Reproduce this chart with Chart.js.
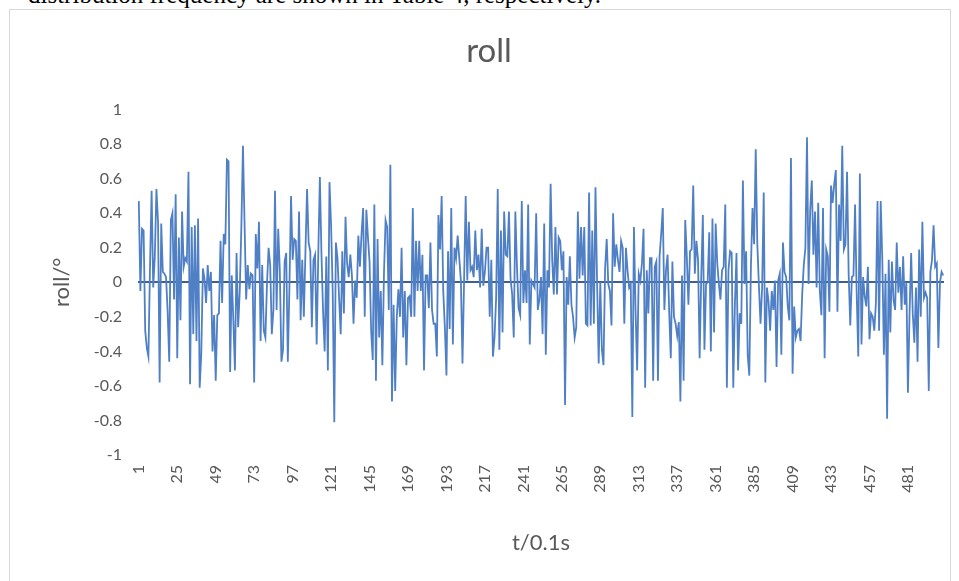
<!DOCTYPE html>
<html><head><meta charset="utf-8">
<script src="https://cdn.jsdelivr.net/npm/chart.js@4"></script>
<style>
html,body{margin:0;padding:0;background:#fff;overflow:hidden}
#wrap{position:relative;width:959px;height:581px;overflow:hidden}
#toptext{position:absolute;left:28px;top:-20px;font-family:'Liberation Serif',serif;font-size:25px;line-height:29px;color:#000;white-space:nowrap}
#frame{position:absolute;left:9px;top:9px;width:940px;height:640px;border:1px solid #d9d9d9}
canvas{position:absolute;left:0;top:0}
</style></head>
<body><div id="wrap">
<div id="toptext">distribution frequency are shown in Table 4, respectively.</div>
<div id="frame"></div>
<canvas id="c" width="959" height="581"></canvas>
</div>
<script>
const chartTitle = 'roll';
const yAxisTitle = 'roll/°';
const xAxisTitle = 't/0.1s';
const xTickLabels = ['1','25','49','73','97','121','145','169','193','217','241','265','289','313','337','361','385','409','433','457','481'];
const yTickValues = [-1,-0.8,-0.6,-0.4,-0.2,0,0.2,0.4,0.6,0.8,1];
const rollValues = [
0.47,-0.05,0.31,0.30,-0.28,-0.38,-0.43,0.09,0.53,-0.03,0.15,0.54,0.35,-0.58,0.34,0.06,0.05,0.03,-0.17,-0.46,0.36,0.40,-0.10,0.51,-0.44,0.26,-0.22,0.41,0.09,0.14,0.12,0.64,-0.59,0.32,-0.30,0.33,-0.34,0.37,-0.61,-0.41,0.08,0.02,-0.12,0.10,-0.05,0.06,
-0.40,-0.19,-0.57,-0.19,-0.18,0.24,-0.12,0.28,0.22,0.71,0.70,-0.52,0.04,-0.22,-0.51,0.17,-0.26,-0.05,0.32,0.79,0.34,-0.10,0.10,-0.04,0.05,0.04,-0.58,0.28,0.08,0.35,-0.34,0.10,-0.28,-0.32,-0.01,0.20,0.10,-0.30,-0.16,0.53,-0.16,0.31,0.07,-0.46,-0.39,0.12,
0.17,-0.46,-0.03,0.50,0.13,0.25,0.24,-0.10,0.41,-0.22,0.13,-0.20,0.18,0.54,0.23,0.18,-0.26,0.13,0.16,-0.36,0.16,0.61,0.16,-0.17,-0.40,0.15,-0.51,0.58,0.33,-0.05,-0.81,0.23,0.14,-0.09,-0.30,0.18,-0.18,0.38,0.11,0.03,0.16,0.04,-0.24,0.01,-0.09,0.27,0.09,
0.28,0.43,-0.20,0.42,0.26,0.12,-0.28,-0.45,0.45,-0.57,0.25,-0.32,-0.05,-0.48,0.05,0.36,0.32,-0.16,0.68,-0.69,-0.13,-0.63,-0.20,-0.04,-0.20,0.20,-0.32,-0.05,-0.48,-0.09,-0.08,-0.20,0.43,-0.20,0.24,-0.05,0.24,-0.05,0.16,-0.51,0.04,0.04,-0.15,0.23,-0.16,-0.24,
-0.24,-0.43,0.39,0.19,0.50,-0.05,-0.26,-0.54,0.18,-0.27,0.43,-0.36,0.20,0.14,0.27,0.14,0.01,-0.47,0.01,0.50,0.01,0.35,0.07,0.09,0.03,0.30,0.07,0.16,-0.03,0.31,-0.02,0.06,0.20,0.20,-0.20,0.13,-0.43,-0.32,-0.09,0.54,-0.39,0.30,-0.29,0.41,0.16,0.15,
0.41,0.02,-0.07,-0.32,0.41,0.09,-0.15,-0.19,0.47,-0.12,0.07,-0.12,0.45,-0.36,0.01,-0.01,-0.03,0.40,-0.16,-0.10,0.03,-0.30,0.34,-0.42,0.07,-0.03,0.57,0.13,-0.07,0.32,-0.07,0.26,0.24,0.07,0.18,-0.71,0.03,-0.13,0.15,-0.13,-0.20,-0.32,-0.26,0.41,0.02,0.32,
0.04,0.32,-0.24,-0.25,0.52,-0.25,0.30,-0.24,0.55,0.00,-0.47,0.00,-0.39,-0.48,0.08,0.25,-0.01,-0.05,-0.25,0.40,0.09,0.22,0.13,0.06,0.24,0.20,-0.24,0.20,0.07,-0.03,-0.01,-0.78,0.32,-0.16,-0.51,0.05,0.01,0.11,0.31,-0.61,0.07,-0.18,0.14,0.14,-0.57,0.09,0.12,
-0.57,0.15,0.28,0.43,-0.16,0.07,0.16,-0.17,-0.44,0.12,-0.20,-0.24,-0.31,-0.23,-0.69,0.04,-0.57,0.36,0.15,-0.13,0.18,0.19,0.56,0.05,0.24,0.13,-0.44,0.03,0.39,-0.39,-0.01,0.00,0.29,-0.40,0.37,-0.29,0.34,0.11,-0.01,-0.10,0.07,0.09,0.45,-0.61,0.07,0.18,
0.17,-0.61,-0.13,0.17,-0.51,-0.18,-0.24,0.59,-0.01,0.18,-0.42,-0.54,0.09,0.43,0.22,0.77,0.22,-0.02,-0.24,-0.03,0.52,-0.58,-0.03,-0.11,-0.28,-0.05,-0.16,0.01,-0.49,0.01,0.05,-0.42,0.23,0.06,0.03,-0.14,-0.22,0.72,-0.53,-0.14,-0.32,-0.28,-0.27,-0.34,-0.07,0.10,
0.20,0.84,-0.01,0.42,0.59,0.16,0.41,-0.03,0.46,-0.05,-0.19,0.43,-0.44,0.19,0.15,-0.17,0.56,0.46,0.57,0.65,-0.17,0.45,0.24,0.79,0.19,0.22,0.64,0.05,-0.25,0.03,0.04,0.45,-0.06,-0.43,0.63,-0.36,0.03,-0.08,-0.14,0.09,-0.33,-0.18,-0.20,-0.28,-0.12,0.47,
-0.28,0.47,0.13,-0.42,0.05,-0.79,0.13,-0.29,0.12,-0.10,-0.16,0.23,-0.06,0.09,-0.16,0.15,-0.13,0.00,-0.64,-0.18,0.17,-0.18,-0.35,-0.03,-0.46,0.19,-0.20,0.35,-0.09,-0.06,-0.09,-0.63,0.06,0.13,0.33,0.09,0.11,-0.38,0.00,0.06,0.04
];
const categories = rollValues.map((v, i) => String(i + 1));

const txt = '#595959';
const fontFam = 'Lato';
new Chart(document.getElementById('c'), {
  type: 'line',
  data: {
    labels: categories,
    datasets: [{ data: rollValues, borderColor: '#4f7fc4', borderWidth: 1.8, pointRadius: 0, tension: 0, fill: false }]
  },
  options: {
    responsive: false, animation: false, devicePixelRatio: 1,
    layout: { padding: { left: 34, right: 15, top: 0, bottom: 0 } },
    plugins: {
      legend: { display: false }, tooltip: { enabled: false },
      title: { display: true, text: chartTitle, color: txt, font: { family: fontFam, size: 33, weight: 'normal' }, padding: { top: 32, bottom: 38 } }
    },
    scales: {
      x: {
        type: 'category', offset: true,
        grid: { display: false, drawTicks: false },
        border: { display: false },
        ticks: {
          autoSkip: false, maxRotation: 90, minRotation: 90, padding: 10,
          color: txt, font: { family: fontFam, size: 16 },
          callback: function (v, i) { const l = categories[i]; return xTickLabels.includes(l) ? l : ''; }
        },
        title: { display: true, text: xAxisTitle, color: txt, font: { family: fontFam, size: 22 }, padding: { top: 0, bottom: 25 } },
        afterFit: s => { s.height = 126; s.paddingLeft = 0; s.paddingRight = 0; }
      },
      y: {
        min: -1, max: 1, z: 1,
        afterBuildTicks: s => { s.ticks = yTickValues.map(v => ({ value: v })); },
        ticks: { color: txt, font: { family: fontFam, size: 16 }, padding: 16,
          callback: v => String(Math.round(v * 10) / 10) },
        grid: { drawTicks: false, lineWidth: 2,
          color: c => (c.tick && Math.abs(c.tick.value) < 1e-9) ? '#3f5f8f' : 'rgba(0,0,0,0)' },
        border: { display: false },
        title: { display: true, text: yAxisTitle, color: txt, font: { family: fontFam, size: 22 }, padding: { top: 15 } },
        afterFit: s => { s.width = 104; s.paddingTop = 0; s.paddingBottom = 0; }
      }
    }
  }
});
</script>
</body></html>
